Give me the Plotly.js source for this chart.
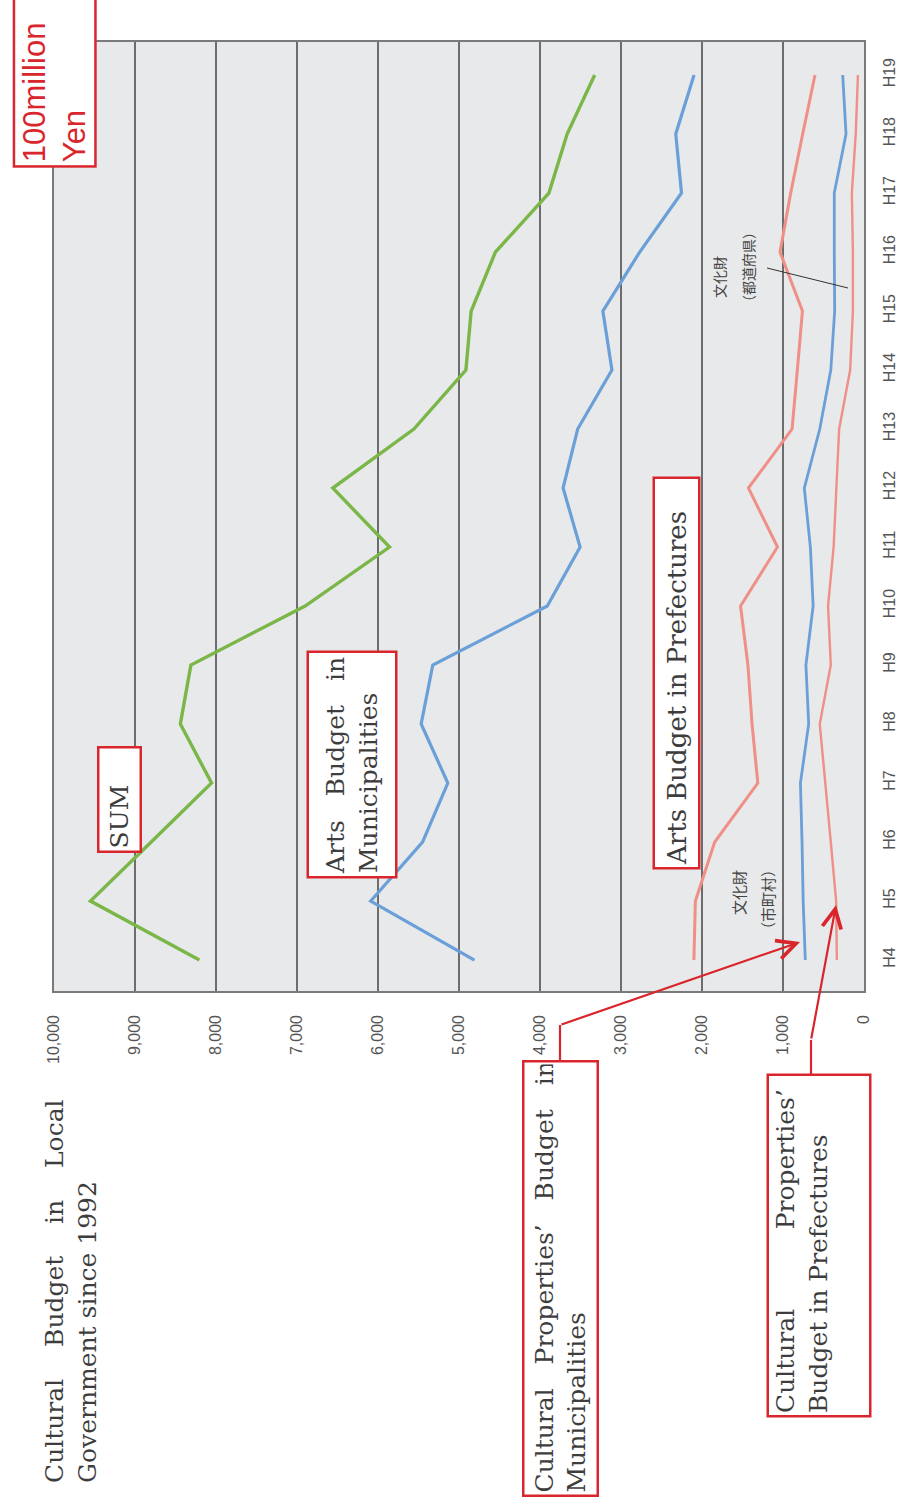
<!DOCTYPE html>
<html>
<head>
<meta charset="utf-8">
<script src="https://cdn.plot.ly/plotly-3.0.1.min.js"></script>
<style>html,body{margin:0;padding:0;background:#fff;}#chart{width:907px;height:1508px;}</style>
</head>
<body>
<div id="chart"></div>
<script>
// ---- data (100 million yen), fiscal years Heisei 4 .. Heisei 19 ----
const years = ['H4','H5','H6','H7','H8','H9','H10','H11','H12','H13','H14','H15','H16','H17','H18','H19'];
const sumBudget          = [8205, 9550, 8800, 8055, 8440, 8310, 6900, 5858, 6558, 5557, 4915, 4850, 4550, 3890, 3665, 3325];
const artsMunicipal      = [4810, 6090, 5450, 5138, 5467, 5324, 3910, 3505, 3715, 3535, 3112, 3224, 2769, 2253, 2324, 2098];
const artsPrefecture     = [2100, 2082, 1843, 1311, 1382, 1433, 1524, 1068, 1427, 888, 823, 760, 1037, 905, 757, 605];
const cultureMunicipal   = [725, 751, 765, 785, 683, 717, 628, 662, 737, 546, 410, 362, 367, 367, 222, 263];
const culturePrefecture  = [335, 344, 410, 478, 546, 410, 444, 375, 341, 307, 171, 137, 137, 150, 102, 75];
const valueTicks = [0, 1000, 2000, 3000, 4000, 5000, 6000, 7000, 8000, 9000, 10000];

// ---- page geometry (pixels) ----
const W = 907, H = 1508;
const PL = 54, PR = 864, PT = 42, PB = 991;
const px = x => (x - PL) / (PR - PL);
const py = y => (PB - y) / (PB - PT);

const serif = 'DejaVu Serif';
const labelFont = {family: serif, size: 25, color: '#3d3d3d'};
const canvas = document.createElement('canvas');
const ctx = canvas.getContext('2d');
function justify(words, size, target) {
  ctx.font = size + 'px "' + serif + '"';
  let ww = 0;
  words.forEach(w => ww += ctx.measureText(w).width);
  const nb = ctx.measureText('\u00a0').width;
  const per = (target - ww) / (words.length - 1);
  const n = Math.max(1, Math.round(per / nb));
  return words.join('\u00a0'.repeat(n));
}

const red = '#d9252c';
const BW = 2.5, BP = 2;
function boxLabel(text, x0, y0, x1, y1, extra) {
  // rotated box: screen width (x1-x0) -> unrotated height, screen height (y1-y0) -> unrotated width
  const a = Object.assign({
    text: text,
    xref: 'paper', yref: 'paper',
    x: px((x0 + x1) / 2), y: py((y0 + y1) / 2),
    xanchor: 'center', yanchor: 'middle',
    textangle: -90,
    showarrow: false,
    width: (y1 - y0) - 2 * (BW + BP),
    height: (x1 - x0) - 2 * (BW + BP),
    align: 'left', valign: 'middle',
    bgcolor: '#ffffff', bordercolor: red, borderwidth: BW, borderpad: BP,
    font: labelFont
  }, extra || {});
  return a;
}

const titleW = 440;
const annotations = [
  // unit box
  {
    text: '100million<br>Yen', xref: 'paper', yref: 'paper',
    x: px(54.7), y: py(79), xanchor: 'center', yanchor: 'middle',
    textangle: -90, showarrow: false, width: 178 - 2 * (BW + 3), height: 84 - 2 * (BW + 3),
    align: 'left', valign: 'middle', bgcolor: '#ffffff', bordercolor: red, borderwidth: BW, borderpad: 3,
    font: {family: 'Liberation Sans', size: 31, color: red}
  },
  // title
  {
    text: justify(['Cultural', 'Budget', 'in', 'Local'], 25, 392) + '<br>Government since 1992',
    xref: 'paper', yref: 'paper', x: px(71), y: py(1483 - titleW / 2), xanchor: 'center', yanchor: 'middle',
    textangle: -90, showarrow: false, width: titleW, height: 66, align: 'left', valign: 'middle',
    borderpad: 0, font: labelFont
  },
  boxLabel('SUM', 97, 746, 142, 853),
  boxLabel(justify(['Arts', 'Budget', 'in'], 25, 212) + '<br>Municipalities', 306, 651, 397, 879),
  boxLabel('Arts Budget in Prefectures', 652, 477, 700, 870, {font: {family: serif, size: 26, color: '#3d3d3d'}}),
  boxLabel(justify(['Cultural', 'Properties\u2019', 'Budget', 'in'], 25, 420) + '<br>Municipalities', 522, 1060, 599, 1497),
  boxLabel(justify(['Cultural', 'Properties\u2019'], 25, 322) + '<br>Budget in Prefectures', 766, 1074, 871, 1418, {valign: 'top'}),
  // Japanese small labels
  {text: '文化財', xref: 'paper', yref: 'paper', x: px(738), y: py(893), xanchor: 'center', yanchor: 'middle',
   textangle: -90, showarrow: false, font: {family: 'Noto Sans CJK JP', size: 15, color: '#444'}},
  {text: '（市町村）', xref: 'paper', yref: 'paper', x: px(767), y: py(900), xanchor: 'center', yanchor: 'middle',
   textangle: -90, showarrow: false, font: {family: 'Noto Sans CJK JP', size: 15, color: '#444'}},
  {text: '文化財', xref: 'paper', yref: 'paper', x: px(719), y: py(277), xanchor: 'center', yanchor: 'middle',
   textangle: -90, showarrow: false, font: {family: 'Noto Sans CJK JP', size: 14, color: '#444'}},
  {text: '（都道府県）', xref: 'paper', yref: 'paper', x: px(748), y: py(267), xanchor: 'center', yanchor: 'middle',
   textangle: -90, showarrow: false, font: {family: 'Noto Sans CJK JP', size: 14, color: '#444'}},
  // red arrows
  {text: '', xref: 'paper', yref: 'paper', x: px(800), y: py(942), axref: 'pixel', ayref: 'pixel',
   ax: 560 - 800, ay: 1025 - 942, showarrow: true, arrowhead: 5, arrowsize: 1.7, arrowwidth: 2.2, arrowcolor: red},
  {text: '', xref: 'paper', yref: 'paper', x: px(836), y: py(905), axref: 'pixel', ayref: 'pixel',
   ax: 811 - 836, ay: 1040 - 905, showarrow: true, arrowhead: 5, arrowsize: 1.7, arrowwidth: 2.2, arrowcolor: red}
];

const shapes = [
  {type: 'line', xref: 'paper', yref: 'paper', x0: px(560), y0: py(1061), x1: px(560), y1: py(1025), line: {color: red, width: 2.2}},
  {type: 'line', xref: 'paper', yref: 'paper', x0: px(811), y0: py(1075), x1: px(811), y1: py(1040), line: {color: red, width: 2.2}},
  {type: 'line', xref: 'paper', yref: 'paper', x0: px(767), y0: py(268), x1: px(848), y1: py(288), line: {color: '#333', width: 1}}
];

function series(vals, color, width) {
  return {type: 'scatter', mode: 'lines', x: vals, y: years, line: {color: color, width: width}, hoverinfo: 'skip'};
}
const data = [
  series(culturePrefecture, '#ef8f86', 2.4),
  series(cultureMunicipal, '#6a9fd8', 2.8),
  series(artsPrefecture, '#ef8f86', 3),
  series(artsMunicipal, '#6a9fd8', 3.2),
  series(sumBudget, '#7ab648', 3.4)
];

const layout = {
  width: W, height: H,
  margin: {l: PL, r: W - PR, t: PT, b: H - PB, pad: 0},
  paper_bgcolor: '#ffffff', plot_bgcolor: '#e8e9ea',
  showlegend: false,
  xaxis: {
    range: [10000, 0], tickvals: valueTicks, tickformat: ',d',
    tickangle: -90, ticks: '', ticklabelstandoff: 16,
    tickfont: {family: 'Liberation Sans', size: 16, color: '#555'},
    showgrid: true, gridcolor: '#6d6d6d', gridwidth: 1.3, zeroline: false,
    showline: true, mirror: true, linecolor: '#7a7a7a', linewidth: 1.6
  },
  yaxis: {
    type: 'category', categoryorder: 'array', categoryarray: years,
    range: [-0.525, 15.56], side: 'right', tickangle: -90, ticks: '', ticklabelstandoff: 10,
    tickfont: {family: 'Liberation Sans', size: 16, color: '#555'},
    showgrid: false, zeroline: false,
    showline: true, mirror: true, linecolor: '#7a7a7a', linewidth: 1.6
  },
  annotations: annotations,
  shapes: shapes
};

Plotly.newPlot('chart', data, layout, {staticPlot: true, displayModeBar: false});
</script>
</body>
</html>
